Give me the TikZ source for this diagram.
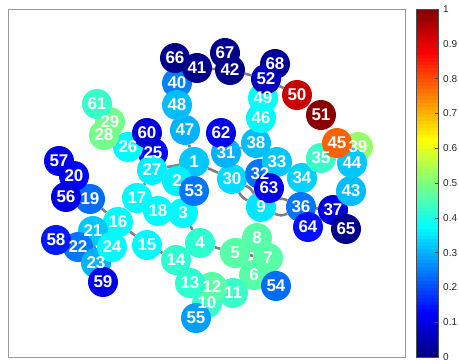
\documentclass[tikz,border=0pt]{standalone}
\usepackage{fontspec}
\setmainfont{Liberation Sans}
\usetikzlibrary{backgrounds}

% jet colour map: value in [0,1] -> rgb
\newcommand{\jetcolor}[2]{%
  \pgfmathsetmacro\jr{max(0,min(1,1.5-abs(4*(#2)-3)))}%
  \pgfmathsetmacro\jg{max(0,min(1,1.5-abs(4*(#2)-2)))}%
  \pgfmathsetmacro\jb{max(0,min(1,1.5-abs(4*(#2)-1)))}%
  \definecolor{#1}{rgb}{\jr,\jg,\jb}}

\tikzset{
  vertex/.style={circle, minimum size=30pt, inner sep=0pt},
  vlabel/.style={text=white, font=\fontsize{17}{17}\selectfont\bfseries, inner sep=0pt},
  link/.style={draw=gray, line width=2.6pt},
  ticklabel/.style={anchor=west, inner sep=0pt, text=black!85, font=\fontsize{10}{10}\selectfont},
}

\begin{document}
\begin{tikzpicture}[x=1pt,y=-1pt]
    \useasboundingbox (0,0) rectangle (459,364);
    \def\barleft{416}
    \def\barright{438}
    \def\bartop{9}
    \def\barbot{357}

    % plot frame
    \draw[black!40, line width=0.8pt] (8,9) rectangle (405,357);

    % vertices (drawn in this order, labels on top later)
    \foreach \id/\x/\y/\v in {
        1/194/162/0.32, 2/177/181/0.36, 3/183/213/0.37, 4/200/243/0.42,
        5/235/253/0.46, 6/254/275/0.46, 7/268/258/0.46, 8/257/238/0.46,
        9/261/207/0.35, 10/207/303/0.43, 11/233/293/0.43, 12/212/287/0.46,
        13/190/283/0.42, 14/176/260/0.42, 15/147/245/0.37, 16/118/222/0.37,
        17/137/198/0.37, 18/158/211/0.37, 19/90/199/0.23, 20/74/176/0.13,
        21/93/231/0.32, 22/78/247/0.24, 23/96/263/0.30, 24/112/247/0.37,
        25/153/153/0.13, 26/128/147/0.37, 27/152/170/0.36, 29/110/122/0.49,
        28/104/135/0.49, 30/232/179/0.34, 31/226/153/0.30, 32/260/174/0.24,
        33/277/162/0.32, 34/302/178/0.33, 35/321/158/0.43, 36/301/207/0.24,
        37/333/210/0.09, 38/256/143/0.31, 39/358/147/0.52, 40/177/83/0.25,
        43/351/191/0.31, 44/352/163/0.32, 45/337/143/0.78, 46/261/118/0.37,
        47/185/130/0.30, 48/177/105/0.31, 49/263/98/0.38, 50/297/95/0.93,
        51/321/115/0.99, 53/194/191/0.24, 54/276/286/0.23, 55/196/318/0.28,
        56/66/197/0.10, 57/59/161/0.10, 58/56/240/0.15, 59/103/282/0.10,
        60/147/133/0.09, 61/97/104/0.43, 62/221/133/0.11, 63/269/188/0.10,
        64/308/227/0.14, 65/346/229/0.01, 66/175/58/0.01, 67/225/53/0.01,
        68/275/64/0.02, 41/197/68/0.01, 42/230/70/0.01, 52/266/79/0.06} {
        \jetcolor{vfill}{\v}
        \node[vertex, fill=vfill] (n\id) at (\x,\y) {};
    }

    % vertex numbers
    \foreach \id in {1,...,68} {
        \node[vlabel] (l\id) at (n\id) {\id};
    }

    % links behind the vertices
    \begin{pgfonlayer}{background}
        \foreach \a/\b in {41/42, 42/52, 52/50, 47/1, 27/1, 1/30, 31/38, 36/37,
            19/16, 16/15, 15/14, 3/4, 4/5, 5/7, 27/17, 21/23} {
            \draw[link] (n\a) -- (n\b);
        }
        % doubled links
        \draw[link] (n30) to[bend left=18] (n9);
        \draw[link] (n30) to[bend right=18] (n9);
        \draw[link] (n9) to[bend left=26] (n36);
        \draw[link] (n9) to[bend right=26] (n36);
    \end{pgfonlayer}

    % colour bar
    \foreach \k in {0,...,99} {
        \jetcolor{barfill}{(\k+0.5)/100}
        \fill[barfill] (\barleft, {\barbot - \k*3.48 + 0.3}) rectangle (\barright, {\barbot - (\k+1)*3.48});
    }
    \draw[black!70, line width=0.5pt] (\barleft,\bartop) rectangle (\barright,\barbot);
    \foreach \t/\txt in {0/0, 1/0.1, 2/0.2, 3/0.3, 4/0.4, 5/0.5, 6/0.6, 7/0.7, 8/0.8, 9/0.9, 10/1} {
        \draw[black!70, line width=0.5pt] (\barright, {\barbot - \t*34.8}) -- ++(-3,0);
        \node[ticklabel] (t\t) at (443, {\barbot - \t*34.8}) {\txt};
    }

\end{tikzpicture}
\end{document}
